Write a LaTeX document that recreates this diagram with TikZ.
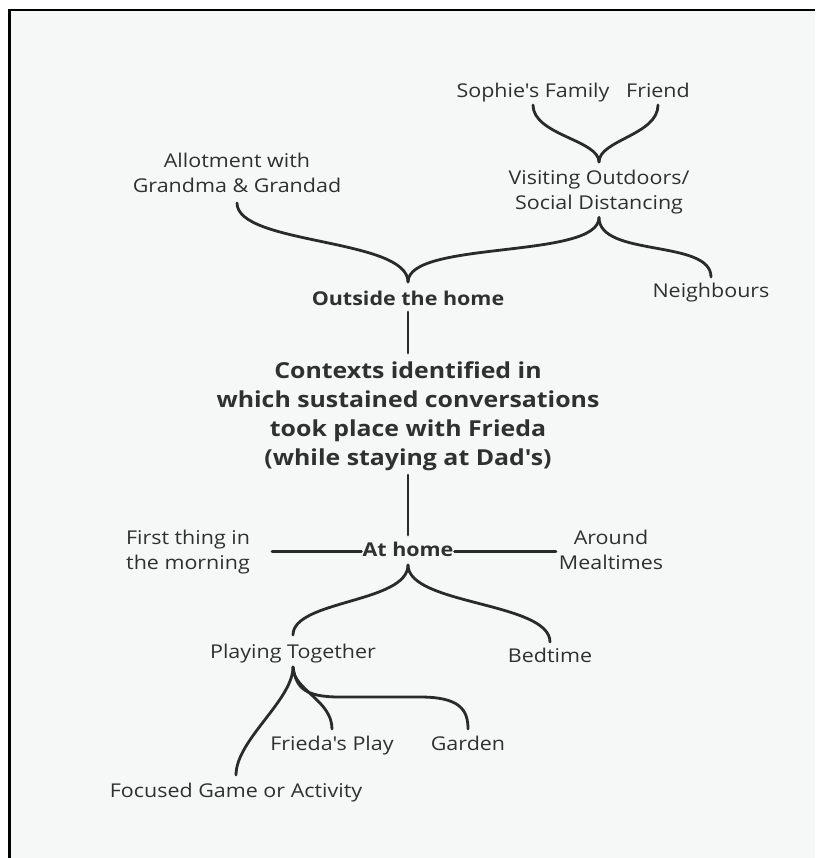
\documentclass[tikz,border=0pt]{standalone}
\usepackage{fontspec}
\newfontfamily\osans{Open Sans}[FakeStretch=1.13]
\definecolor{paper}{HTML}{F5F8F7}
\definecolor{ink}{HTML}{303030}
\definecolor{wire}{HTML}{2A2A2A}
\begin{document}
\begin{tikzpicture}[x=1pt,y=-1pt,
  leaf/.style={inner sep=0pt,outer sep=0pt,text=ink,anchor=base,
    font=\osans\fontsize{19}{25}\selectfont,text height=13pt,text depth=4pt},
  multi/.style={inner sep=0pt,outer sep=0pt,text=ink,anchor=base,
    font=\osans\fontsize{19}{25}\selectfont},
  hub/.style={leaf,font=\osans\fontsize{19}{25}\selectfont\bfseries},
  title/.style={multi,font=\osans\fontsize{22}{29}\selectfont\bfseries},
  twig/.style={draw=wire,line width=2.8pt,line cap=round},
  frame/.style={draw=black,line width=2.5pt}]
\newcommand\lines[1]{\begin{tabular}[t]{@{}c@{}}#1\end{tabular}}
\useasboundingbox (0,0) rectangle (815,858);

% page and frame
\fill[white] (0,0) rectangle (815,858);
\fill[paper] (9.5,10) rectangle (815,858);
\draw[frame] (9.5,858) -- (9.5,10) -- (815,10);

% labels
\node[leaf] (sophie) at (533,98) {Sophie's Family};
\node[leaf] (friend) at (658,98) {Friend};
\node[multi] (visit) at (599,185) {\lines{Visiting Outdoors/\\Social Distancing}};
\node[multi] (allot) at (237,168) {\lines{Allotment with\\Grandma \& Grandad}};
\node[leaf] (neigh) at (711,298) {Neighbours};
\node[hub] (outside) at (408,305) {Outside the home};
\node[title] (core) at (408,378) {\lines{Contexts identified in\\which sustained conversations\\took place with Frieda\\(while staying at Dad's)}};
\node[hub] (athome) at (408,556) {At home};
\node[multi] (morning) at (188,544) {\lines{First thing in\\the morning}};
\node[multi] (meals) at (611,544) {\lines{Around\\Mealtimes}};
\node[leaf] (playing) at (293,658) {Playing Together};
\node[leaf] (bed) at (550,662) {Bedtime};
\node[leaf] (frieda) at (332,750) {Frieda's Play};
\node[leaf] (garden) at (468,750) {Garden};
\node[leaf] (focus) at (236,797) {Focused Game or Activity};

% outside the home
\draw[twig] ([yshift=-3pt]sophie.south) .. controls +(0,30) and +(0,-22) .. ([yshift=5.5pt]visit.north);
\draw[twig] ([yshift=-3pt]friend.south) .. controls +(0,30) and +(0,-22) .. ([yshift=5.5pt]visit.north);
\draw[twig] (visit.south) .. controls +(0,42) and +(0,-42) .. ([yshift=10pt]outside.north);
\draw[twig] (visit.south) .. controls +(0,40) and +(0,-38) .. ([yshift=8pt]neigh.north);
\draw[twig] ([yshift=-2.5pt]allot.south) .. controls +(0,42) and +(0,-44) .. ([yshift=10pt]outside.north);

% trunk
\draw[twig] ([yshift=-3pt]outside.south) -- ([yshift=4.7pt]core.north);
\draw[twig] ([yshift=-1.3pt]core.south) -- ([yshift=8pt]athome.north);

% at home
\draw[twig] ([xshift=-1pt]athome.west) -- ([xshift=22pt]morning.east);
\draw[twig] ([xshift=1pt]athome.east) -- ([xshift=-3pt]meals.west);
\draw[twig] ([yshift=-5pt]athome.south) .. controls +(0,38) and +(0,-35) .. ([yshift=10pt]playing.north);
\draw[twig] ([yshift=-5pt]athome.south) .. controls +(0,40) and +(0,-40) .. ([yshift=7pt]bed.north);
\draw[twig] ([yshift=-5pt]playing.south) .. controls +(0,33) and +(0,-35) .. ([yshift=9pt]focus.north);
\draw[twig] ([yshift=-5pt]playing.south) .. controls +(0,23) and +(0,-29) .. ([yshift=8pt]frieda.north);
\draw[twig] ([yshift=-5pt]playing.south) .. controls +(3,21) and +(-35,0) .. ++(47,30)
  -- ++(80,0) .. controls +(40,0) and +(0,-19) .. ([yshift=8pt]garden.north);
\end{tikzpicture}
\end{document}
